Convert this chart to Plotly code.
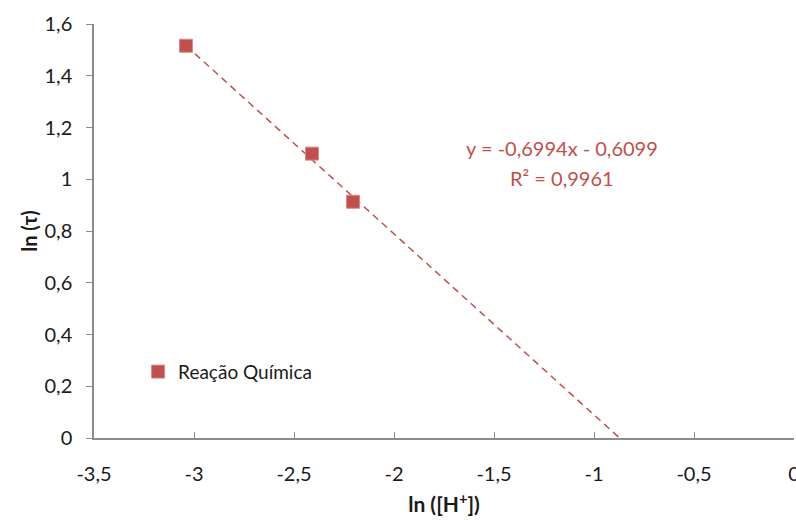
import plotly.graph_objects as go

# Data
x_vals = [-3.04, -2.41, -2.205]
y_vals = [1.516, 1.099, 0.913]
series_name = "Reação Química"

# Trendline coefficients (from displayed equation)
slope = -0.6994
intercept = -0.6099
trend_x = [x_vals[0], -intercept / slope]
trend_y = [slope * trend_x[0] + intercept, 0.0]

x_tickvals = [-3.5, -3, -2.5, -2, -1.5, -1, -0.5, 0]
x_ticktext = ["-3,5", "-3", "-2,5", "-2", "-1,5", "-1", "-0,5", "0"]
y_tickvals = [0, 0.2, 0.4, 0.6, 0.8, 1.0, 1.2, 1.4, 1.6]
y_ticktext = ["0", "0,2", "0,4", "0,6", "0,8", "1", "1,2", "1,4", "1,6"]

red = "#c0504d"
font_family = "Lato, 'Open Sans', sans-serif"

fig = go.Figure()
fig.add_trace(go.Scatter(
    x=trend_x, y=trend_y, mode="lines",
    line=dict(color=red, width=1.5, dash="7px,5px"),
    showlegend=False, hoverinfo="skip"))
fig.add_trace(go.Scatter(
    x=x_vals, y=y_vals, mode="markers", name=series_name,
    marker=dict(symbol="square", size=13, color=red,
                line=dict(color="#d98b89", width=1))))

fig.add_annotation(
    x=-1.16, y=1.122, xref="x", yref="y", showarrow=False,
    text="y = -0,6994x - 0,6099",
    font=dict(family=font_family, size=20, color=red))
fig.add_annotation(
    x=-1.16, y=1.006, xref="x", yref="y", showarrow=False,
    text="R² = 0,9961",
    font=dict(family=font_family, size=20, color=red))

axis_line = "#8c8c8c"
fig.update_layout(
    width=796, height=520,
    margin=dict(l=94, r=2, t=24, b=82),
    paper_bgcolor="white", plot_bgcolor="white",
    font=dict(family=font_family, size=20, color="#1a1a1a"),
    showlegend=True,
    legend=dict(x=0.063, y=0.16, xanchor="left", yanchor="middle",
                bgcolor="rgba(0,0,0,0)", font=dict(size=19, color="#1a1a1a"),
                itemwidth=30, tracegroupgap=0),
    xaxis=dict(range=[-3.5, 0], tickvals=x_tickvals, ticktext=x_ticktext,
               showgrid=False, zeroline=False, showline=True,
               linecolor=axis_line, linewidth=1.5,
               ticks="inside", ticklen=6, tickcolor=axis_line, tickwidth=1.2,
               tickfont=dict(size=20), ticklabelstandoff=17,
               ticklabeloverflow="allow", automargin=False,
               title=dict(text="<b>ln ([H<sup>+</sup>])</b>", font=dict(size=21), standoff=14)),
    yaxis=dict(range=[0, 1.6], tickvals=y_tickvals, ticktext=y_ticktext,
               showgrid=False, zeroline=False, showline=True,
               linecolor=axis_line, linewidth=1.5,
               ticks="outside", ticklen=6, tickcolor=axis_line, tickwidth=1.2,
               tickfont=dict(size=20), ticklabelstandoff=10, automargin=True,
               title=dict(text="<b>ln (τ)</b>", font=dict(size=20), standoff=2)),
)

fig.write_html("out.html")
